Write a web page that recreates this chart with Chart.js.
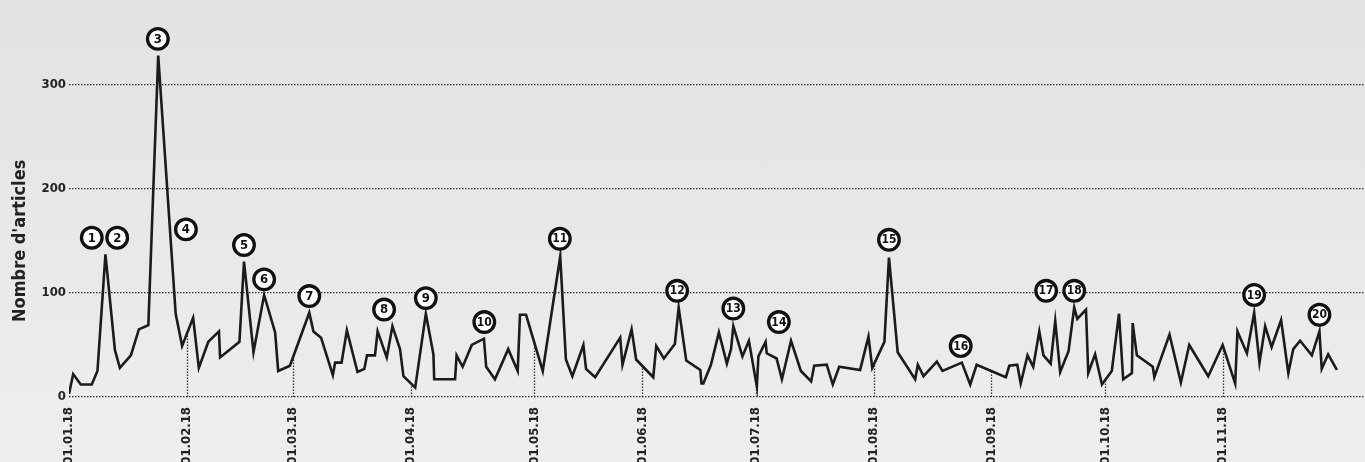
<!DOCTYPE html>
<html>
<head>
<meta charset="utf-8">
<script src="https://cdn.jsdelivr.net/npm/chart.js@4.4.1/dist/chart.umd.min.js"></script>
<style>
  html, body { margin: 0; padding: 0; }
  body {
    width: 1365px; height: 462px; overflow: hidden;
    background: linear-gradient(to bottom, #e1e2e4, #eeeeef);
  }
  #wrap { position: relative; width: 1365px; height: 462px; }
</style>
</head>
<body>
<div id="wrap"><canvas id="articlesChart"></canvas></div>
<script>
// days since 01.01.18 and number of articles
const days = [0, 1.1, 3.1, 6, 7.5, 9.6, 12.1, 13.4, 16.3, 18.4, 20.9, 23.5, 28.1, 29.8, 32.7, 34.2, 36.7, 39.5, 39.8, 44.9,
  46.1, 48.6, 51.4, 54.3, 55.1, 58.2, 63.3, 64.4, 66.4, 69.5, 70.1, 71.8, 73.2, 76, 77.8, 78.5, 80.6, 81.3, 83.7, 85.2,
  87.2, 88.1, 91.2, 94, 96, 96.2, 101.7, 102.1, 103.7, 106.1, 109.3, 109.9, 112.2, 115.7, 118.2, 118.8, 120.4, 124.8, 129.4, 130.9,
  132.6, 135.5, 136.2, 138.6, 145.2, 145.8, 148.2, 149.4, 153.9, 154.7, 156.7, 159.6, 160.6, 162.6, 166.3, 166.6, 167.1, 169.1, 171.2, 173.3,
  174.4, 175, 177.4, 179.1, 181.2, 181.6, 183.5, 183.8, 186.4, 187.8, 190.2, 192.8, 195.5, 196.3, 199.6, 201.2, 202.9, 208.4, 210.6, 211.6,
  214.8, 216, 218.3, 222.9, 223.6, 225.1, 228.6, 230.1, 235.2, 237.4, 239.1, 246.8, 247.7, 249.8, 250.7, 252.5, 254, 255.6, 256.7, 258.6,
  259.8, 261.1, 263.3, 264.8, 265.6, 267.9, 268.5, 270.3, 272.1, 274.7, 276.6, 277.7, 280, 280.2, 281.3, 285.5, 285.9, 289.9, 292.9, 295.1,
  300.1, 303.9, 307.2, 307.8, 310.3, 312.2, 313.6, 315.1, 316.8, 319.3, 321.2, 322.5, 324.3, 327.4, 329.4, 330, 331.7, 334];
const articles = [3, 22, 12, 12, 25, 137, 45, 28, 40, 65, 69, 328, 80, 49, 76, 28, 53, 63, 38, 53,
  130, 43, 98, 62, 25, 30, 81, 63, 57, 21, 33, 33, 64, 24, 27, 40, 40, 63, 38, 68,
  46, 20, 9, 80, 41, 17, 17, 40, 29, 50, 56, 29, 17, 46, 25, 79, 79, 25, 135, 36,
  20, 50, 27, 19, 57, 31, 65, 36, 19, 49, 37, 51, 86, 35, 26, 13, 13, 31, 62, 32,
  46, 68, 39, 54, 10, 39, 53, 42, 37, 17, 54, 25, 15, 30, 31, 12, 29, 26, 58, 28,
  53, 134, 43, 17, 31, 20, 34, 25, 33, 12, 31, 19, 30, 31, 13, 40, 29, 63, 40, 32,
  73, 24, 44, 86, 75, 84, 23, 41, 12, 25, 80, 17, 23, 71, 40, 29, 19, 60, 14, 50,
  20, 50, 13, 63, 42, 81, 33, 68, 48, 74, 23, 46, 54, 40, 63, 27, 41, 26];

const tickDays = [0, 31, 59, 90, 122.6, 151, 181, 212, 243, 273, 304];
const tickLabels = ['01.01.18', '01.02.18', '01.03.18', '01.04.18', '01.05.18', '01.06.18',
  '01.07.18', '01.08.18', '01.09.18', '01.10.18', '01.11.18'];
const yTicks = [0, 100, 200, 300];

// numbered markers: label, day, value
const markerNums = [1, 2, 3, 4, 5, 6, 7, 8, 9, 10, 11, 12, 13, 14, 15, 16, 17, 18, 19, 20];
const markerDays = [6, 12.7, 23.4, 30.8, 46.1, 51.4, 63.3, 83, 94, 109.4, 129.3, 160.2, 175, 187, 216, 234.9, 257.4, 264.8, 312.2, 329.4];
const markerVals = [153, 153, 344, 161, 146, 113, 97, 84, 95, 72, 152, 102, 85, 72, 151, 49, 102, 102, 98, 79];

const FONT = "'Liberation Sans Narrow', 'DejaVu Sans Condensed', 'Roboto Condensed', Arial, sans-serif";
const DOT = [1.5, 1.5];

function valueAt(day) {
  for (let i = 1; i < days.length; i++) {
    if (day <= days[i]) {
      const t = (day - days[i - 1]) / (days[i] - days[i - 1]);
      return articles[i - 1] + t * (articles[i] - articles[i - 1]);
    }
  }
  return articles[articles.length - 1];
}

// dotted drop lines from the axis up to the curve at each month start
const dropLines = {
  id: 'dropLines',
  beforeDatasetsDraw(chart) {
    const { ctx, scales: { x, y } } = chart;
    ctx.save();
    ctx.strokeStyle = '#333';
    ctx.lineWidth = 1.3;
    ctx.setLineDash(DOT);
    tickDays.forEach(d => {
      if (d === 0) return;
      const px = Math.round(x.getPixelForValue(d)) + 0.5;
      ctx.beginPath();
      ctx.moveTo(px, y.getPixelForValue(0));
      ctx.lineTo(px, y.getPixelForValue(valueAt(d)));
      ctx.stroke();
    });
    ctx.restore();
  }
};

const markers = {
  id: 'markers',
  afterDatasetsDraw(chart) {
    const { ctx, scales: { x, y } } = chart;
    ctx.save();
    markerNums.forEach((n, i) => {
      const cx = x.getPixelForValue(markerDays[i]);
      const cy = y.getPixelForValue(markerVals[i]);
      ctx.beginPath();
      ctx.arc(cx, cy, 10.3, 0, Math.PI * 2);
      ctx.fillStyle = '#fff';
      ctx.fill();
      ctx.lineWidth = 3.3;
      ctx.strokeStyle = '#111';
      ctx.stroke();
      ctx.fillStyle = '#111';
      ctx.font = 'bold ' + (n > 9 ? 12 : 13) + 'px ' + FONT;
      ctx.textAlign = 'center';
      ctx.textBaseline = 'middle';
      ctx.fillText(String(n), cx, cy + 0.5);
    });
    ctx.restore();
  }
};

const yTitle = {
  id: 'yTitle',
  afterDraw(chart) {
    const { ctx, scales: { y } } = chart;
    ctx.save();
    ctx.translate(20, y.getPixelForValue(150));
    ctx.rotate(-Math.PI / 2);
    ctx.fillStyle = '#222';
    ctx.font = 'bold 18px ' + FONT;
    ctx.textAlign = 'center';
    ctx.textBaseline = 'middle';
    ctx.fillText("Nombre d'articles", 0, 0);
    ctx.restore();
  }
};

new Chart(document.getElementById('articlesChart'), {
  type: 'line',
  data: {
    datasets: [{
      data: days.map((d, i) => ({ x: d, y: articles[i] })),
      borderColor: '#1b1b1b',
      borderWidth: 2.6,
      pointRadius: 0,
      tension: 0,
      fill: false
    }]
  },
  options: {
    responsive: true,
    maintainAspectRatio: false,
    animation: false,
    layout: { padding: 0 },
    plugins: { legend: { display: false }, tooltip: { enabled: false } },
    scales: {
      x: {
        type: 'linear',
        min: 0,
        max: 341.4,
        afterBuildTicks: s => { s.ticks = tickDays.map(v => ({ value: v })); },
        afterFit: s => { s.height = 65; },
        grid: { display: false },
        border: { display: false },
        ticks: {
          autoSkip: false,
          minRotation: 90,
          maxRotation: 90,
          padding: 2,
          color: '#222',
          font: { family: FONT, size: 13, weight: 'bold' },
          callback: (v, i) => tickLabels[i]
        }
      },
      y: {
        min: 0,
        max: 371,
        afterBuildTicks: s => { s.ticks = yTicks.map(v => ({ value: v })); },
        afterFit: s => { s.width = 69; },
        border: { display: false, dash: DOT },
        grid: { color: '#333', lineWidth: 1.3, drawTicks: false },
        ticks: {
          padding: 3,
          color: '#222',
          font: { family: FONT, size: 13, weight: 'bold' }
        }
      }
    }
  },
  plugins: [dropLines, markers, yTitle]
});
</script>
</body>
</html>
